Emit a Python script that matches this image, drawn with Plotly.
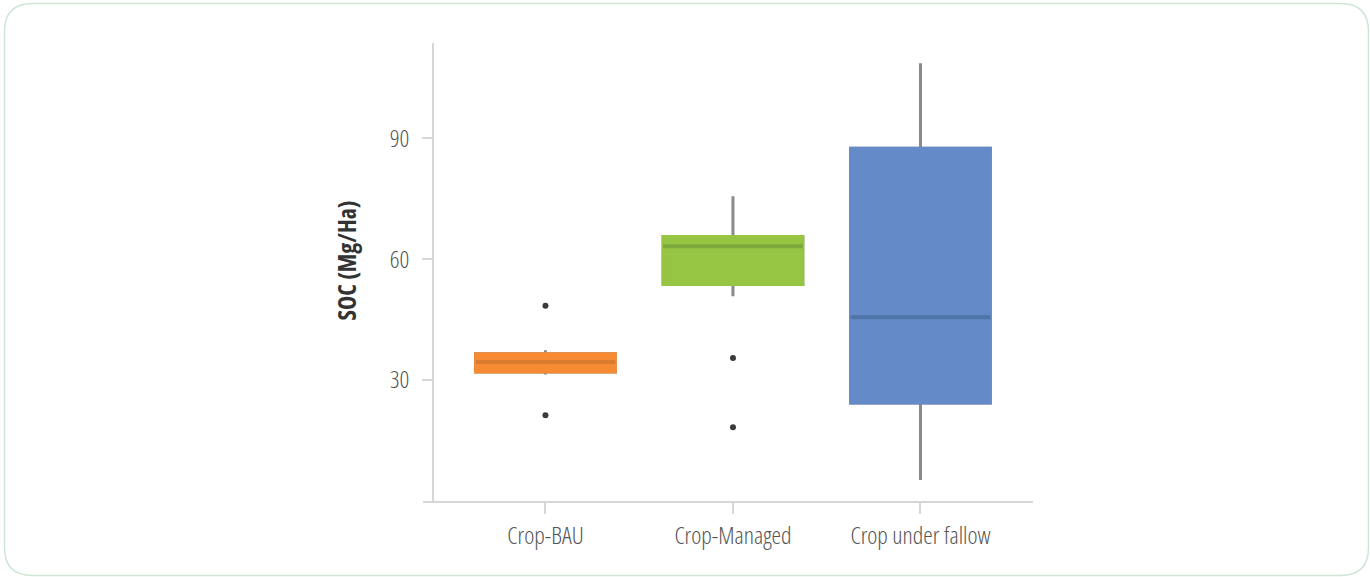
import plotly.graph_objects as go

# Box plot summary values (SOC, Mg/Ha)
categories = ["Crop-BAU", "Crop-Managed", "Crop under fallow"]
q1 = [32.0, 53.7, 24.3]
median = [34.5, 63.2, 45.6]
q3 = [36.5, 65.6, 87.5]
lower_whisker = [31.4, 50.8, 5.2]
upper_whisker = [37.4, 75.6, 108.6]

outlier_cats = ["Crop-BAU", "Crop-BAU", "Crop-Managed", "Crop-Managed"]
outlier_vals = [48.4, 21.3, 35.5, 18.3]

fill_colors = ["#F68B33", "#96C443", "#648BC8"]
median_colors = ["#D97C2F", "#7BA83A", "#4F74A8"]
whisker_color = "#8A8A8E"

W, H = 1370, 577
ML, MR, MT, MB = 423, 337, 43, 76
PW, PH = W - ML - MR, H - MT - MB
BOX_W = 0.745

fig = go.Figure()

for i, cat in enumerate(categories):
    # whiskers (gray)
    fig.add_trace(go.Box(
        x=[cat], q1=[q1[i]], median=[median[i]], q3=[q3[i]],
        lowerfence=[lower_whisker[i]], upperfence=[upper_whisker[i]],
        width=BOX_W, whiskerwidth=0, boxpoints=False,
        line=dict(color=whisker_color, width=3),
        fillcolor="rgba(0,0,0,0)", showlegend=False, hoverinfo="skip",
    ))
    # coloured box body
    fig.add_trace(go.Box(
        x=[cat], q1=[q1[i]], median=[q1[i]], q3=[q3[i]],
        lowerfence=[q1[i]], upperfence=[q3[i]],
        width=BOX_W, whiskerwidth=0, boxpoints=False,
        line=dict(color=fill_colors[i], width=3),
        fillcolor=fill_colors[i], showlegend=False,
    ))
    # darker median line
    fig.add_trace(go.Box(
        x=[cat], q1=[median[i]], median=[median[i]], q3=[median[i]],
        lowerfence=[median[i]], upperfence=[median[i]],
        width=BOX_W, whiskerwidth=0, boxpoints=False,
        line=dict(color=median_colors[i], width=4),
        fillcolor=median_colors[i], showlegend=False, hoverinfo="skip",
    ))

fig.add_trace(go.Scatter(
    x=outlier_cats, y=outlier_vals, mode="markers",
    marker=dict(color="#3A3A3A", size=6), showlegend=False,
))


# rounded card border, in paper coords
def px_x(p):
    return (p - ML) / PW


def px_y(p):
    return 1 - (p - MT) / PH


left, right, top, bottom, r = 4.5, 1368.5, 3.5, 575.5, 28
path = (
    f"M {px_x(left + r)} {px_y(top)} L {px_x(right - r)} {px_y(top)} "
    f"Q {px_x(right)} {px_y(top)} {px_x(right)} {px_y(top + r)} "
    f"L {px_x(right)} {px_y(bottom - r)} "
    f"Q {px_x(right)} {px_y(bottom)} {px_x(right - r)} {px_y(bottom)} "
    f"L {px_x(left + r)} {px_y(bottom)} "
    f"Q {px_x(left)} {px_y(bottom)} {px_x(left)} {px_y(bottom - r)} "
    f"L {px_x(left)} {px_y(top + r)} "
    f"Q {px_x(left)} {px_y(top)} {px_x(left + r)} {px_y(top)} Z"
)
fig.add_shape(type="path", path=path, xref="paper", yref="paper",
              line=dict(color="#CFE5D6", width=1.5), layer="below")

font_family = "Open Sans, sans-serif"

# y title sits a little above the plot centre in the reference
fig.add_annotation(
    text="SOC (Mg/Ha)", textangle=-90, showarrow=False,
    xref="paper", yref="paper", x=px_x(346), y=px_y(261),
    xanchor="center", yanchor="middle",
    font=dict(family=font_family, size=24, color="#333333", weight=700),
)

fig.update_layout(
    width=W, height=H,
    margin=dict(l=ML, r=MR, t=MT, b=MB),
    paper_bgcolor="white", plot_bgcolor="white",
    boxmode="overlay",
    font=dict(family=font_family, size=24, color="#555555", weight=300),
    xaxis=dict(
        type="category", categoryorder="array", categoryarray=categories,
        range=[-0.653, 2.6],
        showline=True, linecolor="#D6D6D6", linewidth=2,
        ticks="outside", ticklen=11, tickwidth=2, tickcolor="#D6D6D6",
        showgrid=False, zeroline=False, ticklabelstandoff=1,
    ),
    yaxis=dict(
        range=[0, 113.6],
        anchor="free", position=10 / PW,
        tickvals=[30, 60, 90],
        showline=True, linecolor="#D6D6D6", linewidth=2,
        ticks="outside", ticklen=10, tickwidth=2, tickcolor="#D6D6D6",
        showgrid=False, zeroline=False, ticklabelstandoff=8,
    ),
)

# page has a default body margin; drop it and use a condensed face
post = """
document.body.style.margin = '0';
document.body.style.overflow = 'hidden';
var st = document.createElement('style');
st.textContent = '.main-svg text { font-stretch: condensed !important; }';
document.head.appendChild(st);
"""

fig.write_html("out.html", post_script=post, config={"displayModeBar": False})
